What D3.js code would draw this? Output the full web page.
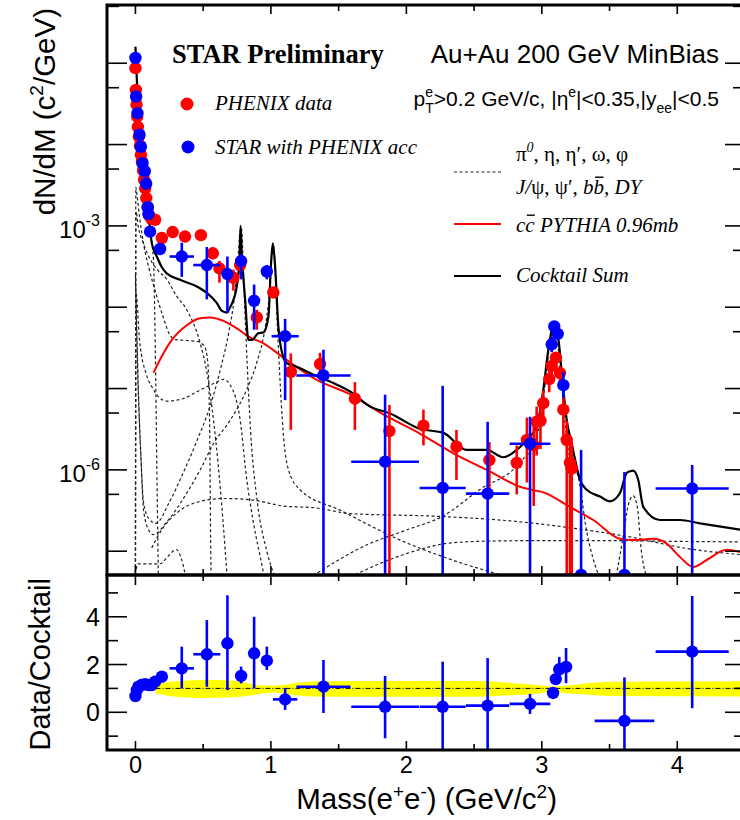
<!DOCTYPE html>
<html>
<head>
<meta charset="utf-8">
<script src="https://cdn.jsdelivr.net/npm/d3@7"></script>
<style>
  html, body { margin: 0; padding: 0; background: #fff; }
  svg { display: block; }
</style>
</head>
<body>
<svg id="chart" width="740" height="820"></svg>
<script>
// ---------- PHENIX data (upper panel) ----------
const phenixMass  = [0.000,0.003,0.008,0.013,0.018,0.025,0.033,0.040,0.048,0.056,0.064,0.072,0.080,0.090,0.100,0.118,0.145,0.195,0.275,0.366,0.483,0.571,0.620,0.723,0.773,0.896,1.018,1.147,1.363,1.620,1.875,2.126,2.370,2.613,2.815,2.890,2.940,2.962,2.990,3.011,3.055,3.073,3.104,3.134,3.159,3.184,3.208,3.221];
const phenixYield = [0.087,0.047,0.031,0.022,0.0165,0.0125,0.0097,0.0075,0.0062,0.0048,0.0037,0.0029,0.0022,0.0017,0.00135,0.00122,0.00119,7.1e-4,8.4e-4,7.4e-4,7.7e-4,4.6e-4,3.0e-4,2.3e-4,3.3e-4,7.5e-5,1.52e-4,1.6e-5,2.0e-5,7.5e-6,3.0e-6,3.5e-6,1.93e-6,1.32e-6,1.22e-6,2.33e-6,2.0e-6,3.9e-6,4.0e-6,6.6e-6,1.31e-5,1.9e-5,2.4e-5,1.55e-5,5.5e-6,2.33e-6,1.22e-6,1.04e-6];
const phenixLow   = [0.087,0.047,0.031,0.022,0.0165,0.0125,0.0097,0.0075,0.0062,0.0048,0.0037,0.0029,0.0022,0.0017,0.00135,0.00122,0.00119,6.5e-4,7.8e-4,6.8e-4,7.1e-4,3.9e-4,2.0e-4,1.6e-4,2.8e-4,5.3e-5,1.3e-4,3.1e-6,1.6e-5,3.1e-6,0,2.0e-6,7.5e-7,5.3e-7,5.0e-7,7.0e-7,3.6e-7,1.5e-6,1.8e-6,3.5e-6,9.0e-6,1.5e-5,2.0e-5,1.2e-5,2.5e-6,0,0,0];
const phenixHigh  = [0.087,0.047,0.031,0.022,0.0165,0.0125,0.0097,0.0075,0.0062,0.0048,0.0037,0.0029,0.0022,0.0017,0.00135,0.00122,0.00119,7.7e-4,9.1e-4,8.0e-4,8.3e-4,5.4e-4,3.7e-4,2.9e-4,3.9e-4,9.3e-5,1.75e-4,2.7e-5,2.75e-5,1.2e-5,6.3e-6,5.5e-6,3.1e-6,2.2e-6,2.0e-6,4.4e-6,4.1e-6,6.0e-6,6.2e-6,9.5e-6,1.7e-5,2.3e-5,2.8e-5,1.9e-5,8.0e-6,4.0e-6,2.5e-6,2.2e-6];

// ---------- STAR with PHENIX acceptance (upper panel) ----------
const starMass  = [0.000,0.005,0.015,0.030,0.040,0.052,0.069,0.079,0.091,0.096,0.108,0.182,0.342,0.527,0.679,0.780,0.876,0.970,1.105,1.388,1.843,2.268,2.600,2.913,3.073,3.092,3.117,3.159,3.290,3.610,4.110];
const starYield = [0.116,0.039,0.0243,0.0132,0.0094,0.0059,0.0047,0.0033,0.0017,0.0014,8.5e-4,5.2e-4,4.2e-4,3.3e-4,2.56e-4,3.7e-4,1.2e-4,2.75e-4,4.4e-5,1.45e-5,1.26e-6,6.0e-7,5.1e-7,2.1e-6,3.5e-5,5.8e-5,4.7e-5,1.1e-5,-2.0e-6,-1.8e-7,5.9e-7];
const starLow   = [0.116,0.039,0.0243,0.0132,0.0094,0.0059,0.0047,0.0033,0.0017,0.0014,8.5e-4,4.6e-4,2.36e-4,1.25e-4,8.5e-5,2.2e-4,5.3e-5,2.2e-4,7.2e-6,0,0,0,0,0,2.8e-5,5.1e-5,4.1e-5,7.6e-6,0,0,0];
const starHigh  = [0.116,0.039,0.0243,0.0132,0.0094,0.0059,0.0047,0.0033,0.0017,0.0014,8.5e-4,5.9e-4,6.2e-4,5.5e-4,4.2e-4,4.5e-4,1.9e-4,3.3e-4,7.2e-5,3.0e-5,8.4e-6,1.08e-5,3.9e-6,4.5e-6,4.3e-5,6.6e-5,5.4e-5,1.6e-5,1.76e-6,9.4e-7,1.15e-6];
const starMassErr = [0,0,0,0,0,0,0,0,0,0,0,0.02,0.09,0.10,0.04,0.02,0.02,0.02,0.10,0.20,0.25,0.17,0.16,0.15,0.01,0.01,0.01,0.01,0.12,0.20,0.27];

// ---------- Cocktail curves: [mass, dN/dM] ----------
const cocktailSum = [[0.000,0.16],[0.005,0.105],[0.015,0.0412],[0.030,0.0152],[0.050,0.0065],[0.070,0.0031],[0.090,0.00167],[0.110,8.4e-4],[0.121,6.1e-4],[0.158,4.2e-4],[0.195,3.1e-4],[0.232,2.6e-4],[0.330,2.17e-4],[0.453,1.8e-4],[0.527,1.5e-4],[0.600,1.13e-4],[0.638,9.0e-5],[0.675,8.6e-5],[0.699,1.0e-4],[0.748,1.8e-4],[0.768,3.8e-4],[0.776,1.0e-3],[0.785,4.6e-4],[0.810,1.23e-4],[0.834,3.96e-5],[0.859,3.96e-5],[0.908,4.8e-5],[0.945,4.9e-5],[0.982,7.8e-5],[1.000,3.2e-4],[1.014,6.1e-4],[1.031,3.2e-4],[1.055,5.8e-5],[1.092,2.4e-5],[1.117,2.05e-5],[1.190,1.85e-5],[1.314,1.48e-5],[1.461,1.17e-5],[1.585,9.2e-6],[1.732,6.0e-6],[1.880,4.95e-6],[2.100,3.2e-6],[2.274,2.85e-6],[2.446,1.76e-6],[2.594,1.76e-6],[2.716,1.43e-6],[2.815,1.76e-6],[2.889,2.33e-6],[2.962,3.42e-6],[3.011,9.6e-6],[3.048,2.98e-5],[3.085,5.8e-5],[3.123,3.96e-5],[3.147,1.55e-5],[3.184,4.1e-6],[3.221,2.1e-6],[3.283,7.5e-7],[3.331,5.7e-7],[3.430,4.7e-7],[3.503,4.1e-7],[3.577,5.2e-7],[3.627,9.2e-7],[3.652,9.6e-7],[3.675,9.8e-7],[3.712,7.5e-7],[3.749,3.5e-7],[3.872,2.42e-7],[4.020,2.42e-7],[4.167,2.2e-7],[4.500,1.8e-7]];
const charmPythia = [[0.133,1.57e-5],[0.207,2.72e-5],[0.269,3.96e-5],[0.379,6.0e-5],[0.478,7.3e-5],[0.551,7.5e-5],[0.650,6.8e-5],[0.748,5.5e-5],[0.846,4.25e-5],[0.945,3.6e-5],[1.092,2.4e-5],[1.339,1.28e-5],[1.585,8.5e-6],[1.830,4.8e-6],[2.100,2.8e-6],[2.347,1.6e-6],[2.594,1.0e-6],[2.839,6.2e-7],[3.036,5.1e-7],[3.208,3.5e-7],[3.380,2.42e-7],[3.577,1.42e-7],[3.675,1.37e-7],[3.823,1.42e-7],[3.922,1.24e-7],[4.020,8.5e-8],[4.118,6.4e-8],[4.217,7.8e-8],[4.365,1.04e-7],[4.500,9.4e-8]];

const pi0Dalitz   = [[0.000,0.15],[0.005,0.09],[0.015,0.035],[0.030,0.013],[0.050,0.0055],[0.070,0.0029],[0.090,0.0016],[0.110,9e-4],[0.125,5.5e-4],[0.135,3.2e-4],[0.142,9e-5],[0.150,1.2e-5],[0.158,1e-6],[0.170,4e-8]];
const etaDalitz   = [[0.000,4e-8],[0.003,3e-3],[0.010,2.5e-3],[0.030,1.3e-3],[0.060,6e-4],[0.100,3e-4],[0.150,1.5e-4],[0.200,8e-5],[0.256,4.5e-5],[0.300,4e-5],[0.380,3.9e-5],[0.453,3.8e-5],[0.510,3.3e-5],[0.535,2e-5],[0.548,3e-6],[0.556,1e-7],[0.560,4e-8]];
const omegaDalitz = [[0.000,4e-8],[0.004,1.5e-3],[0.020,1e-3],[0.060,6e-4],[0.120,3.6e-4],[0.170,2.8e-4],[0.232,2.2e-4],[0.300,1.4e-4],[0.379,9.3e-5],[0.478,3.6e-5],[0.530,1.5e-5],[0.576,4.1e-6],[0.610,1.2e-6],[0.645,2.5e-7],[0.680,4e-8]];
const etapDalitz  = [[0.000,4e-8],[0.004,1.5e-4],[0.030,4e-5],[0.080,1.5e-5],[0.120,1.06e-5],[0.232,7e-6],[0.350,7.5e-6],[0.478,9.6e-6],[0.600,1.2e-5],[0.650,1.3e-5],[0.700,1.1e-5],[0.773,4.1e-6],[0.820,8e-7],[0.868,2.4e-7],[0.940,6e-8],[0.960,4e-8]];
const omegaEE     = [[0.000,2.5e-4],[0.020,1.2e-5],[0.040,1.5e-6],[0.060,4e-7],[0.100,2.5e-7],[0.150,2.2e-7],[0.250,4e-7],[0.350,9e-7],[0.450,2.2e-6],[0.550,6e-6],[0.630,1.8e-5],[0.690,5e-5],[0.730,1.3e-4],[0.755,3.5e-4],[0.772,8.5e-4],[0.782,9.5e-4],[0.792,5e-4],[0.805,1.2e-4],[0.825,2e-5],[0.850,3e-6],[0.900,4e-7],[0.970,1e-7],[1.050,4e-8]];
const phiEE       = [[0.000,2e-4],[0.020,1e-5],[0.040,1.5e-6],[0.060,3.2e-7],[0.100,1.8e-7],[0.133,1.6e-7],[0.232,2.3e-7],[0.379,5.2e-7],[0.478,1e-6],[0.576,2.1e-6],[0.700,4.1e-6],[0.820,9.6e-6],[0.900,2.2e-5],[0.960,6e-5],[0.990,1.6e-4],[1.005,4e-4],[1.017,5.8e-4],[1.028,4e-4],[1.042,1e-4],[1.065,1.5e-5],[1.090,3e-6],[1.130,1e-6],[1.216,5.7e-7],[1.511,3.2e-7],[1.954,1.37e-7],[2.320,8e-8],[2.716,5e-8]];
const phiDalitz   = [[0.005,6e-8],[0.020,7e-8],[0.180,7e-8],[0.250,9e-8],[0.300,1.05e-7],[0.340,8e-8],[0.380,4e-8]];
const bbbar       = [[0.120,1.1e-7],[0.200,1.9e-7],[0.305,2.95e-7],[0.478,4.1e-7],[0.650,4.45e-7],[0.846,4.3e-7],[1.090,3.6e-7],[1.339,3.4e-7],[1.585,2.9e-7],[2.200,2.7e-7],[2.840,2.3e-7],[3.330,1.82e-7],[3.650,1.5e-7],[4.070,1.08e-7],[4.500,9e-8]];
const drellYan    = [[1.550,4.5e-8],[1.800,7e-8],[2.100,1.05e-7],[2.300,1.25e-7],[2.600,1.33e-7],[3.000,1.35e-7],[3.500,1.35e-7],[4.000,1.32e-7],[4.500,1.3e-7]];
const jpsiEE      = [[1.310,5e-8],[1.710,1.2e-7],[2.000,1.82e-7],[2.270,2.7e-7],[2.540,5.7e-7],[2.840,1.24e-6],[2.950,2.3e-6],[3.000,5e-6],[3.030,1.4e-5],[3.060,3.6e-5],[3.085,5.6e-5],[3.110,4.4e-5],[3.140,1.5e-5],[3.170,4e-6],[3.200,1.6e-6],[3.240,1.1e-6],[3.270,8e-7],[3.330,1.8e-7],[3.420,5e-8]];
const psi2sEE     = [[3.550,5e-8],[3.600,1.5e-7],[3.640,3.8e-7],[3.675,4.8e-7],[3.705,3.5e-7],[3.735,1e-7],[3.770,5e-8]];
const cocktailComponents = [pi0Dalitz, etaDalitz, omegaDalitz, etapDalitz, omegaEE, phiEE, phiDalitz, bbbar, drellYan, jpsiEE, psi2sEE];

// ---------- Data / Cocktail (lower panel) ----------
const ratioMass  = [0.000,0.010,0.022,0.045,0.070,0.095,0.120,0.145,0.195,0.342,0.527,0.679,0.780,0.876,0.970,1.105,1.388,1.843,2.268,2.600,2.913,3.083,3.103,3.129,3.179,3.610,4.110];
const ratioValue = [0.68,0.93,1.07,1.14,1.18,1.14,1.14,1.28,1.49,1.84,2.43,2.89,1.52,2.47,2.16,0.54,1.07,0.23,0.23,0.28,0.35,0.81,1.39,1.80,1.90,-0.36,2.54];
const ratioLow   = [0.68,0.93,1.07,1.14,1.18,1.14,1.14,1.28,1.40,1.00,1.07,0.93,1.21,1.00,1.77,0.10,-0.03,-1.09,-1.70,-1.70,-0.07,0.75,1.30,1.37,1.22,-1.70,0.17];
const ratioHigh  = [0.68,0.93,1.07,1.14,1.18,1.14,1.14,1.28,1.58,2.75,3.86,4.90,1.91,4.00,2.75,1.02,2.19,1.52,2.12,2.27,0.77,0.87,1.48,2.32,2.69,1.46,4.87];
const ratioMassErr = [0,0,0,0,0,0,0,0,0.02,0.09,0.10,0.04,0.02,0.02,0.02,0.09,0.20,0.25,0.17,0.16,0.15,0.01,0.01,0.01,0.01,0.22,0.27];

// systematic band of the cocktail
const bandMass = [0.15,0.30,0.50,0.70,0.85,0.95,1.05,1.20,1.40,2.50,2.80,3.00,3.08,3.15,3.30,3.50,4.50];
const bandLow  = [0.80,0.65,0.60,0.62,0.70,0.80,0.82,0.70,0.65,0.65,0.72,0.80,0.86,0.82,0.75,0.68,0.66];
const bandHigh = [1.20,1.30,1.35,1.33,1.20,1.12,1.12,1.25,1.30,1.31,1.22,1.12,1.07,1.10,1.20,1.28,1.30];

// ---------- axis ticks ----------
const massMajorTicks = [0, 1, 2, 3, 4];
const massMinorTicks = [0.5, 1.5, 2.5, 3.5];
const yieldDecades = [-8, -7, -6, -5, -4, -3, -2, -1, 0];
const yieldLabelExponents = [-3, -6];
const ratioMajorTicks = [0, 2, 4];
const ratioMinorTicks = [-1, 1, 3, 5];

// ---------- layout ----------
const SANS = "'Liberation Sans', Arial, Helvetica, sans-serif";
const SERIF = "'Liberation Serif', 'Times New Roman', serif";
const L = 107, R = 745, T = 5, MID = 575, B = 750;

const svg = d3.select('#chart');
const x = d3.scaleLinear().domain([-0.21, 4.5]).range([L, R]);
const yTop = d3.scaleLog().domain([5.1e-8, 0.52]).range([MID, T]);
const yBot = d3.scaleLinear().domain([-1.58, 5.75]).range([B, MID]);
const yT = v => (v > 0 ? yTop(v) : MID);          // non-positive yields sit on the lower edge
const yTbar = v => (v > 0 ? yTop(v) : MID + 20);  // error bars run off the panel

const defs = svg.append('defs');
defs.append('clipPath').attr('id', 'clipTop').append('rect')
  .attr('x', L).attr('y', T).attr('width', R - L).attr('height', MID - T);
defs.append('clipPath').attr('id', 'clipBot').append('rect')
  .attr('x', L).attr('y', MID).attr('width', R - L).attr('height', B - MID);

// text with sub/superscripts
function rich(parent, px, py, parts, o) {
  const t = parent.append('text').attr('x', px).attr('y', py)
    .attr('font-family', o.family).attr('font-size', o.size)
    .attr('text-anchor', o.anchor || 'start').attr('fill', '#000');
  if (o.italic) t.attr('font-style', 'italic');
  if (o.weight) t.attr('font-weight', o.weight);
  if (o.transform) t.attr('transform', o.transform);
  let cur = 0, lastW = 0;
  const overs = [];
  parts.forEach(p => {
    const s = t.append('tspan').text(p.t);
    const shift = p.shift || 0;
    if (shift !== cur) { s.attr('dy', shift - cur); cur = shift; }
    if (p.size) s.attr('font-size', p.size);
    if (p.italic === true) s.attr('font-style', 'italic');
    if (p.italic === false) s.attr('font-style', 'normal');
    if (p.stack) s.attr('dx', -lastW);
    lastW = s.node().getComputedTextLength();
    if (p.over) overs.push(s);
  });
  overs.forEach(s => {
    const b = s.node().getBBox();
    const yy = py - o.size * 0.8;
    parent.append('line').attr('x1', b.x + 1.5).attr('x2', b.x + b.width - 0.5)
      .attr('y1', yy).attr('y2', yy).attr('stroke', '#000').attr('stroke-width', 1.4);
  });
  return t;
}

// ================= upper panel =================
const upperPanel = svg.append('g');
const upperPlot = upperPanel.append('g').attr('clip-path', 'url(#clipTop)');

const curve = d3.line().x(d => x(d[0])).y(d => yT(d[1])).curve(d3.curveMonotoneX);

cocktailComponents.forEach(c => {
  upperPlot.append('path').attr('d', curve(c)).attr('fill', 'none')
    .attr('stroke', '#222').attr('stroke-width', 1.2).attr('stroke-dasharray', '3,2.5');
});
upperPlot.append('path').attr('d', curve(charmPythia)).attr('fill', 'none')
  .attr('stroke', '#ff0000').attr('stroke-width', 2);
upperPlot.append('path').attr('d', curve(cocktailSum)).attr('fill', 'none')
  .attr('stroke', '#000').attr('stroke-width', 2.2);

function drawPoints(g, mass, val, lo, hi, xerr, color, ys, ybar) {
  mass.forEach((m, i) => {
    if (xerr && xerr[i] > 0) {
      g.append('line').attr('x1', x(m - xerr[i])).attr('x2', x(m + xerr[i]))
        .attr('y1', ys(val[i])).attr('y2', ys(val[i]))
        .attr('stroke', color).attr('stroke-width', 2.6);
    }
    if (hi[i] !== lo[i]) {
      g.append('line').attr('x1', x(m)).attr('x2', x(m))
        .attr('y1', ybar(hi[i])).attr('y2', ybar(lo[i]))
        .attr('stroke', color).attr('stroke-width', 2.6);
    }
  });
  mass.forEach((m, i) => {
    g.append('circle').attr('cx', x(m)).attr('cy', ys(val[i])).attr('r', 6.2).attr('fill', color);
  });
}
drawPoints(upperPlot, phenixMass, phenixYield, phenixLow, phenixHigh, null, '#ff0000', yT, yTbar);
drawPoints(upperPlot, starMass, starYield, starLow, starHigh, starMassErr, '#0000ff', yT, yTbar);

// ================= lower panel =================
const lowerPanel = svg.append('g');
const lowerPlot = lowerPanel.append('g').attr('clip-path', 'url(#clipBot)');
const bandData = bandMass.map((m, i) => [m, bandLow[i], bandHigh[i]]);
lowerPlot.append('path')
  .attr('d', d3.area().x(d => x(d[0])).y0(d => yBot(d[1])).y1(d => yBot(d[2])).curve(d3.curveMonotoneX)(bandData))
  .attr('fill', '#ffff00');
lowerPlot.append('line').attr('x1', x(0)).attr('x2', R).attr('y1', yBot(1)).attr('y2', yBot(1))
  .attr('stroke', '#000').attr('stroke-width', 1).attr('stroke-dasharray', '5,2,1,2');
drawPoints(lowerPlot, ratioMass, ratioValue, ratioLow, ratioHigh, ratioMassErr, '#0000ff', yBot, yBot);

// ================= axes & frames =================
const axes = svg.append('g').attr('stroke', '#000');
function hTicks(yEdge, dir, majorLen, minorLen) {
  massMajorTicks.forEach(m => axes.append('line').attr('x1', x(m)).attr('x2', x(m))
    .attr('y1', yEdge).attr('y2', yEdge + dir * majorLen).attr('stroke-width', 1.6));
  massMinorTicks.forEach(m => axes.append('line').attr('x1', x(m)).attr('x2', x(m))
    .attr('y1', yEdge).attr('y2', yEdge + dir * minorLen).attr('stroke-width', 1.6));
}
hTicks(T, 1, 9, 6);
hTicks(MID, -1, 9, 6);
hTicks(MID, 1, 10, 6);
hTicks(B, -1, 9, 6);

function vTick(yy, len) {
  axes.append('line').attr('x1', L).attr('x2', L + len).attr('y1', yy).attr('y2', yy).attr('stroke-width', 1.6);
  axes.append('line').attr('x1', R).attr('x2', R - len).attr('y1', yy).attr('y2', yy).attr('stroke-width', 1.6);
}
yieldDecades.forEach(e => {
  const v = Math.pow(10, e);
  const v5 = 5 * v;
  if (v >= 5.1e-8 && v <= 0.52) vTick(yTop(v), 20);
  if (v5 >= 5.1e-8 && v5 <= 0.52) vTick(yTop(v5), 12);
});
ratioMajorTicks.forEach(r => vTick(yBot(r), 20));
ratioMinorTicks.forEach(r => vTick(yBot(r), 11));

axes.append('rect').attr('x', L).attr('y', T).attr('width', R - L).attr('height', MID - T)
  .attr('fill', 'none').attr('stroke-width', 3);
axes.append('rect').attr('x', L).attr('y', MID).attr('width', R - L).attr('height', B - MID)
  .attr('fill', 'none').attr('stroke-width', 3);

// tick labels
const labels = svg.append('g');
massMajorTicks.forEach(m => labels.append('text').attr('x', x(m)).attr('y', 773)
  .attr('text-anchor', 'middle').attr('font-family', SANS).attr('font-size', 23.5).text(m));
ratioMajorTicks.forEach(r => labels.append('text').attr('x', 100).attr('y', yBot(r) + 9)
  .attr('text-anchor', 'end').attr('font-family', SANS).attr('font-size', 25).text(r));
yieldLabelExponents.forEach(e => {
  rich(labels, 100, yTop(Math.pow(10, e)) + 12,
    [{ t: '10' }, { t: String(e), shift: -12, size: 16 }],
    { family: SANS, size: 24, anchor: 'end' });
});

// axis titles
rich(svg, 557, 809,
  [{ t: 'Mass(e' }, { t: '+', shift: -11, size: 19 }, { t: 'e' }, { t: '-', shift: -11, size: 19 },
   { t: ') (GeV/c' }, { t: '2', shift: -11, size: 19 }, { t: ')' }],
  { family: SANS, size: 29.5, anchor: 'end' });
rich(svg, 0, 0,
  [{ t: 'dN/dM (c' }, { t: '2', shift: -12, size: 19 }, { t: '/GeV)' }],
  { family: SANS, size: 29.5, anchor: 'end', transform: 'translate(55,8) rotate(-90)' });
rich(svg, 0, 0, [{ t: 'Data/Cocktail' }],
  { family: SANS, size: 29, anchor: 'end', transform: 'translate(50,578) rotate(-90)' });

// ================= annotations & legend =================
const ann = svg.append('g');
ann.append('text').attr('x', 172).attr('y', 63).attr('font-family', SERIF)
  .attr('font-weight', 'bold').attr('font-size', 26.5).text('STAR Preliminary');
ann.append('text').attr('x', 719).attr('y', 63).attr('text-anchor', 'end')
  .attr('font-family', SANS).attr('font-size', 26).text('Au+Au 200 GeV MinBias');
rich(ann, 719, 106,
  [{ t: 'p' }, { t: 'e', shift: -9, size: 14 }, { t: 'T', shift: 7, size: 14, stack: true },
   { t: '>0.2 GeV/c, |\u03b7' }, { t: 'e', shift: -9, size: 14 }, { t: '|<0.35,|y' },
   { t: 'ee', shift: 7, size: 14 }, { t: '|<0.5' }],
  { family: SANS, size: 21, anchor: 'end' });

ann.append('circle').attr('cx', 187).attr('cy', 104).attr('r', 6.5).attr('fill', '#ff0000');
ann.append('circle').attr('cx', 188).attr('cy', 147).attr('r', 6.5).attr('fill', '#0000ff');
ann.append('text').attr('x', 215).attr('y', 110).attr('font-family', SERIF).attr('font-style', 'italic')
  .attr('font-size', 21).text('PHENIX data');
ann.append('text').attr('x', 215).attr('y', 154).attr('font-family', SERIF).attr('font-style', 'italic')
  .attr('font-size', 21).text('STAR with PHENIX acc');

ann.append('line').attr('x1', 454).attr('x2', 502).attr('y1', 172).attr('y2', 172)
  .attr('stroke', '#222').attr('stroke-width', 1.2).attr('stroke-dasharray', '3,2.5');
ann.append('line').attr('x1', 454).attr('x2', 501).attr('y1', 224).attr('y2', 224)
  .attr('stroke', '#ff0000').attr('stroke-width', 2);
ann.append('line').attr('x1', 454).attr('x2', 501).attr('y1', 276).attr('y2', 276)
  .attr('stroke', '#000').attr('stroke-width', 2.2);

rich(ann, 516, 161,
  [{ t: '\u03c0', italic: false }, { t: '0', shift: -9, size: 14, italic: true },
   { t: ', \u03b7, \u03b7\u2032, \u03c9, \u03c6', italic: false }],
  { family: SERIF, size: 21 });
rich(ann, 516, 194,
  [{ t: 'J/', italic: true }, { t: '\u03c8', italic: false }, { t: ', \u03c8\u2032, ', italic: false },
   { t: 'b', italic: true }, { t: 'b', italic: true, over: true }, { t: ', DY', italic: true }],
  { family: SERIF, size: 21 });
rich(ann, 516, 232,
  [{ t: 'c', italic: true }, { t: 'c', italic: true, over: true }, { t: ' PYTHIA 0.96mb', italic: true }],
  { family: SERIF, size: 21 });
ann.append('text').attr('x', 516).attr('y', 282).attr('font-family', SERIF).attr('font-style', 'italic')
  .attr('font-size', 21).text('Cocktail Sum');
</script>
</body>
</html>
